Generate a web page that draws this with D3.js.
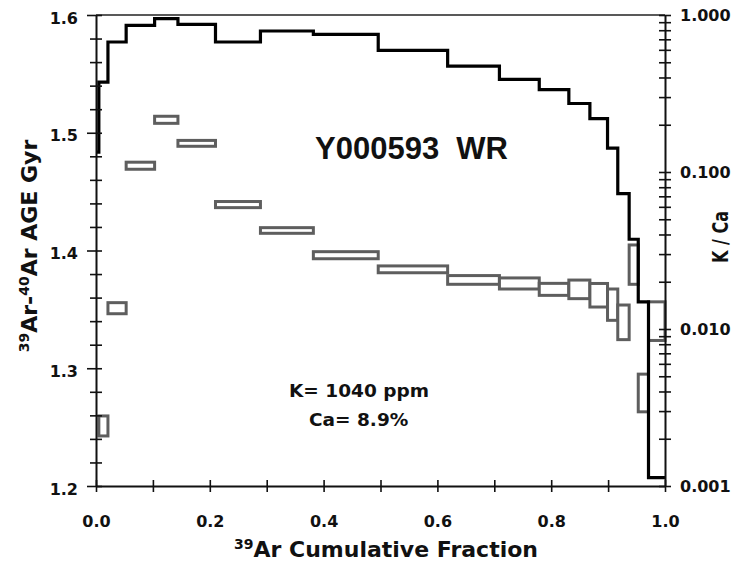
<!DOCTYPE html>
<html>
<head>
<meta charset="utf-8">
<script src="https://cdn.jsdelivr.net/npm/d3@7"></script>
<style>
  html, body { margin: 0; padding: 0; background: #fff; }
  svg { display: block; }
  text { font-family: "DejaVu Sans", sans-serif; font-weight: bold; fill: #111; }
</style>
</head>
<body>
<svg id="chart" width="734" height="562"></svg>
<script>
// ---- data ----
const stepEdges = [0, 0.005, 0.021, 0.053, 0.103, 0.144, 0.210, 0.289, 0.382, 0.496, 0.618, 0.709, 0.779, 0.831, 0.868, 0.899, 0.917, 0.937, 0.953, 0.971, 1.0];
const kCa     = [0.134, 0.374, 0.673, 0.860, 0.949, 0.872, 0.673, 0.791, 0.753, 0.596, 0.473, 0.389, 0.335, 0.273, 0.219, 0.142, 0.0729, 0.0373, 0.0149, 0.00113];
const ageGyr  = [null, 1.251, 1.351, 1.472, 1.511, 1.491, 1.439, 1.417, 1.396, 1.384, 1.375, 1.372, 1.367, 1.367, 1.362, 1.354, 1.339, 1.388, 1.279, 1.340];
const ageErr  = [null, 0.0085, 0.0047, 0.003, 0.003, 0.0025, 0.0026, 0.0024, 0.003, 0.0029, 0.0037, 0.0047, 0.0051, 0.0079, 0.010, 0.0133, 0.0147, 0.0167, 0.016, 0.0164];
const xTicks = [0, 0.1, 0.2, 0.3, 0.4, 0.5, 0.6, 0.7, 0.8, 0.9, 1.0];
const ageTicks = d3.range(0, 21).map(i => +(1.2 + i * 0.02).toFixed(2));
const ageLabels = [1.2, 1.3, 1.4, 1.5, 1.6];
const kcaDecades = [0.001, 0.01, 0.1, 1];
const titleText = "Y000593  WR";
const noteLines = ["K= 1040 ppm", "Ca= 8.9%"];

// ---- layout ----
const L = 96, R = 665, T = 15, B = 486;
const svg = d3.select("#chart");
const x = d3.scaleLinear().domain([0, 1]).range([L, R]);
const yAge = d3.scaleLinear().domain([1.2, 1.6]).range([B, T]);
const yK = d3.scaleLog().domain([0.001, 1]).range([B, T]);

// ---- age boxes ----
const boxes = ageGyr.map((a, i) => ({ a, e: ageErr[i], x0: stepEdges[i], x1: stepEdges[i + 1] })).filter(d => d.a != null);
svg.append("g").selectAll("rect").data(boxes).join("rect")
  .attr("x", d => x(d.x0))
  .attr("width", d => x(d.x1) - x(d.x0))
  .attr("y", d => yAge(d.a + d.e))
  .attr("height", d => yAge(d.a - d.e) - yAge(d.a + d.e))
  .attr("fill", "#fff")
  .attr("stroke", "#5e5e5e")
  .attr("stroke-width", 3);

// ---- K/Ca step line ----
const pts = kCa.map((k, i) => [stepEdges[i], k]);
pts.push([1.0, kCa[kCa.length - 1]]);
svg.append("path")
  .datum(pts)
  .attr("fill", "none")
  .attr("stroke", "#000")
  .attr("stroke-width", 3.2)
  .attr("d", d3.line().x(d => x(d[0])).y(d => yK(d[1])).curve(d3.curveStepAfter));

// ---- frame ----
svg.append("line").attr("x1", L).attr("x2", R).attr("y1", T).attr("y2", T)
  .attr("stroke", "#222").attr("stroke-width", 1.5);

// left axis
const gl = svg.append("g").attr("transform", `translate(${L},0)`)
  .call(d3.axisLeft(yAge).tickValues(ageTicks).tickSizeOuter(0)
    .tickFormat(d => ageLabels.some(v => Math.abs(v - d) < 1e-6) ? d3.format(".1f")(d) : ""));
gl.select(".domain").attr("stroke", "#111").attr("stroke-width", 2);
gl.selectAll(".tick line")
  .attr("stroke", "#111").attr("stroke-width", 1.6)
  .attr("x1", d => ageLabels.some(v => Math.abs(v - d) < 1e-6) ? -9 : -6)
  .attr("x2", 6);
gl.selectAll(".tick text").attr("x", -18).attr("dy", "0.5em")
  .style("font-size", "16px").style("font-family", "DejaVu Sans").style("font-weight", "bold").attr("fill", "#111");

// bottom axis
const gb = svg.append("g").attr("transform", `translate(0,${B})`)
  .call(d3.axisBottom(x).tickValues(xTicks).tickSizeOuter(0)
    .tickFormat((d, i) => i % 2 === 0 ? d3.format(".1f")(d) : ""));
gb.select(".domain").attr("stroke", "#111").attr("stroke-width", 2);
gb.selectAll(".tick line").attr("stroke", "#111").attr("stroke-width", 1.6).attr("y1", -6).attr("y2", 6);
gb.selectAll(".tick text").attr("y", 30).attr("dy", "0.71em")
  .style("font-size", "16px").style("font-family", "DejaVu Sans").style("font-weight", "bold").attr("fill", "#111");

// right axis (log)
const kTickVals = [];
kcaDecades.slice(0, 3).forEach(dec => { for (let m = 1; m <= 9; m++) kTickVals.push(+(dec * m).toPrecision(3)); });
kTickVals.push(1);
const gr = svg.append("g").attr("transform", `translate(${R},0)`)
  .call(d3.axisRight(yK).tickValues(kTickVals).tickSizeOuter(0)
    .tickFormat(d => kcaDecades.some(v => Math.abs(v - d) / v < 1e-6) ? d3.format(".3f")(d) : ""));
gr.select(".domain").attr("stroke", "#111").attr("stroke-width", 2);
gr.selectAll(".tick line").attr("stroke", "#111").attr("stroke-width", 1.6).attr("x1", -6).attr("x2", 6);
gr.selectAll(".tick text").attr("x", 15).attr("dy", "0.36em")
  .style("font-size", "16px").style("font-family", "DejaVu Sans").style("font-weight", "bold").attr("fill", "#111");

// ---- titles ----
svg.append("text")
  .attr("x", 315).attr("y", 159)
  .style("font-family", "'Liberation Sans', Arial, sans-serif")
  .style("font-size", "31px")
  .style("white-space", "pre")
  .text(titleText);

svg.append("text").attr("x", 289).attr("y", 397).style("font-size", "18.5px").text(noteLines[0]);
svg.append("text").attr("x", 309).attr("y", 426).style("font-size", "18.5px").text(noteLines[1]);

// bottom axis title
const bt = svg.append("text").attr("x", 386).attr("y", 557).attr("text-anchor", "middle").style("font-size", "22px");
bt.append("tspan").style("font-size", "14px").attr("dy", -8).text("39");
bt.append("tspan").attr("dy", 8).text("Ar Cumulative Fraction");

// left axis title
const lt = svg.append("text").attr("transform", "translate(37,246) rotate(-90)").attr("text-anchor", "middle").style("font-size", "22px");
lt.append("tspan").style("font-size", "14px").attr("dy", -8).text("39");
lt.append("tspan").attr("dy", 8).text("Ar-");
lt.append("tspan").style("font-size", "14px").attr("dy", -8).text("40");
lt.append("tspan").attr("dy", 8).text("Ar AGE Gyr");

// right axis title
svg.append("text").attr("transform", "translate(728,237) rotate(-90)").attr("text-anchor", "middle")
  .style("font-size", "22px").attr("textLength", 52).attr("lengthAdjust", "spacingAndGlyphs")
  .text("K / Ca");
</script>
</body>
</html>
